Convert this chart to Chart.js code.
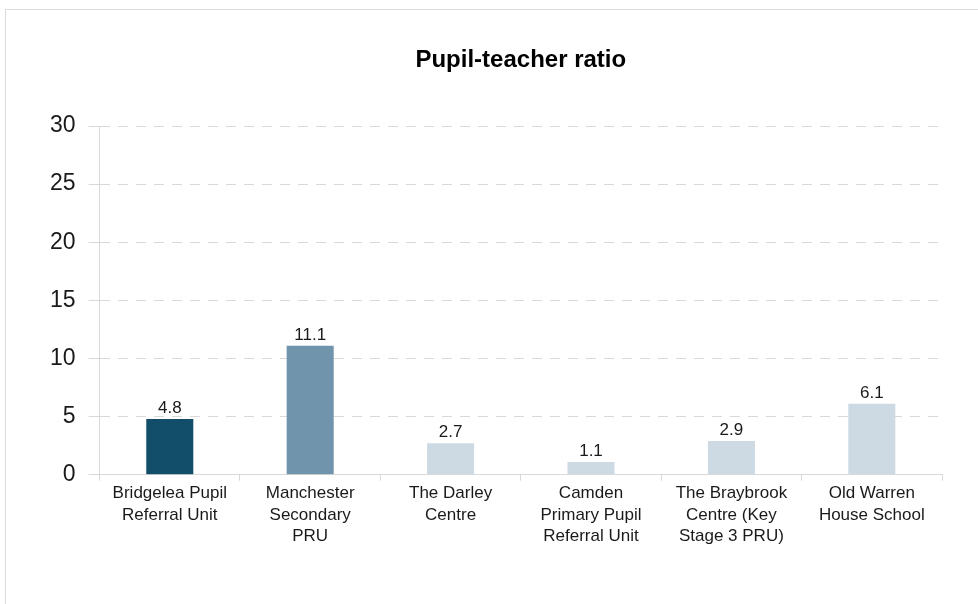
<!DOCTYPE html>
<html>
<head>
<meta charset="utf-8">
<script src="https://cdn.jsdelivr.net/npm/chart.js@4"></script>
<style>
  html, body { margin: 0; padding: 0; background: #fff; overflow: hidden; }
  #frame {
    position: absolute; left: 5px; top: 9px;
    width: 1000px; height: 700px;
    border-top: 1px solid #dcdcdc; border-left: 1px solid #dcdcdc;
  }
  #wrap { position: absolute; left: 0; top: 0; width: 978px; height: 604px; }
</style>
</head>
<body>
<div id="frame"></div>
<div id="wrap"><canvas id="ratioChart" width="978" height="604"></canvas></div>
<script>
/* Pupil-teacher ratio — bar chart */

// ============ DATA ============
const schools = [
  ['Bridgelea Pupil', 'Referral Unit'],
  ['Manchester', 'Secondary', 'PRU'],
  ['The Darley', 'Centre'],
  ['Camden', 'Primary Pupil', 'Referral Unit'],
  ['The Braybrook', 'Centre (Key', 'Stage 3 PRU)'],
  ['Old Warren', 'House School']
];
const ratios = [4.8, 11.1, 2.7, 1.1, 2.9, 6.1];
const barColors = ['#124d69', '#7094ab', '#cddae3', '#cddae3', '#cddae3', '#cddae3'];
const yTicks = [0, 5, 10, 15, 20, 25, 30];
const chartTitle = 'Pupil-teacher ratio';

const FONT = 'Arial, "Liberation Sans", sans-serif';
const GRID = '#d9d9d9';

// value labels above each bar + title centred over the plot area
const valueLabels = {
  id: 'valueLabels',
  afterDatasetsDraw(chart) {
    const ctx = chart.ctx;
    const meta = chart.getDatasetMeta(0);
    const area = chart.chartArea;
    ctx.save();
    ctx.font = '17px ' + FONT;
    ctx.fillStyle = '#1a1a1a';
    ctx.textAlign = 'center';
    ctx.textBaseline = 'alphabetic';
    meta.data.forEach((bar, i) => {
      ctx.fillText(ratios[i].toFixed(1), bar.x, bar.y - 6);
    });
    ctx.font = 'bold 24px ' + FONT;
    ctx.fillStyle = '#000';
    ctx.fillText(chartTitle, (area.left + area.right) / 2, 67);
    ctx.restore();
  }
};

const ctx = document.getElementById('ratioChart').getContext('2d');
new Chart(ctx, {
  type: 'bar',
  data: {
    labels: schools,
    datasets: [{
      data: ratios,
      backgroundColor: barColors,
      borderWidth: 0,
      categoryPercentage: 1,
      barPercentage: 0.335
    }]
  },
  options: {
    responsive: false,
    animation: false,
    layout: { padding: { left: 37, right: 36, top: 126, bottom: 55 } },
    plugins: {
      legend: { display: false },
      tooltip: { enabled: false },
      title: { display: false }
    },
    scales: {
      x: {
        grid: { display: true, drawOnChartArea: false, offset: true, tickLength: 6, color: GRID },
        border: { display: true, color: GRID, width: 1 },
        ticks: {
          color: '#1a1a1a',
          padding: 2,
          maxRotation: 0,
          autoSkip: false,
          font: { family: FONT, size: 17, lineHeight: 1.26 }
        }
      },
      y: {
        min: 0,
        max: 30,
        afterBuildTicks(scale) { scale.ticks = yTicks.map(v => ({ value: v })); },
        grid: { color: GRID, tickLength: 11 },
        border: { display: true, color: GRID, width: 1, dash: [10, 8] },
        ticks: {
          color: '#1a1a1a',
          padding: 13,
          font: { family: FONT, size: 23 }
        }
      }
    }
  },
  plugins: [valueLabels]
});
</script>
</body>
</html>
